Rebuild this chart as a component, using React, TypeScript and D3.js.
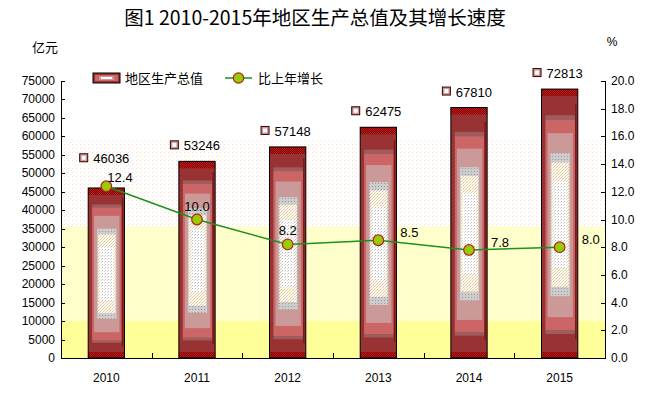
import React from 'react';
import * as d3 from 'd3';

const years = ['2010', '2011', '2012', '2013', '2014', '2015'];
const gdp = [46036, 53246, 57148, 62475, 67810, 72813];
const growth = [12.4, 10.0, 8.2, 8.5, 7.8, 8.0];
const growthLabelPlacement = ['aboveRight', 'above', 'above', 'right', 'right', 'right'];
const leftTicks = d3.range(0, 75001, 5000);
const rightTicks = d3.range(0, 20.001, 2);
const bandValues = [10000, 35700, 59000];

const W = 650, H = 397;
const X0 = 61, X1 = 605, Y0 = 358, YT = 81;

const numFont = '"Liberation Sans", Arial, sans-serif';
const cjkFont = '"Noto Sans CJK SC", "Noto Sans", sans-serif';

function Bar({ x, w, top, bottom }: { x: number; w: number; top: number; bottom: number }) {
  const h = bottom - top;
  const layer = (tf: number, bf: number, li: number, ri: number, fill: string, key: string) => (
    <rect key={key} x={x + li} y={top + tf * h} width={w - li - ri} height={Math.max(0, h * (1 - tf - bf))} fill={fill} />
  );
  const it = top + 0.238 * h;
  const ib = bottom - 0.23 * h;
  const ix = x + 9, iw = w - 17;
  const gs = Math.max(4, 0.035 * h);
  return (
    <g>
      <rect x={x} y={top} width={w} height={h} fill="#993333" />
      {layer(0.097, 0.089, 4, 3, '#9E5C5C', 'a')}
      {layer(0.115, 0.104, 4, 3, '#CC6666', 'b')}
      {layer(0.164, 0.152, 6, 5, '#CC9999', 'c')}
      <rect x={ix} y={it} width={iw} height={ib - it} fill="url(#greyPat)" />
      <rect x={ix + 1} y={it + gs} width={iw - 2} height={Math.max(0, ib - it - 2 * gs)} fill="url(#palePat)" />
      <rect x={ix + 3} y={it + gs + 0.07 * h} width={iw - 6} height={Math.max(0, ib - it - 2 * gs - 0.14 * h)} fill="url(#corePat)" />
      <rect x={x + w - 2.6} y={top + 0.055 * h} width={1.3} height={h * 0.875} fill="#7A1414" />
      <rect x={x} y={top} width={w} height={7} fill="url(#capPat)" />
      <rect x={x} y={bottom - 6} width={w} height={6} fill="url(#capPat)" />
      <rect x={x} y={top} width={w} height={h} fill="none" stroke="#000" strokeWidth={1} />
    </g>
  );
}

export default function App() {
  const xb = d3.scaleBand<string>().domain(years).range([X0, X1]).padding(0);
  const yL = d3.scaleLinear().domain([0, 75000]).range([Y0, YT]);
  const yR = d3.scaleLinear().domain([0, 20]).range([Y0, YT]);
  const step = xb.bandwidth();
  const bw = step * 0.4;
  const cx = (y: string) => (xb(y) as number) + step / 2;

  const line = d3.line<number>().x((_, i) => cx(years[i])).y((d) => yR(d));

  const gl = growth.map((g, i) => {
    const px = cx(years[i]), py = yR(g);
    const p = growthLabelPlacement[i];
    if (p === 'aboveRight') return { x: px + 1, y: py - 4, anchor: 'start' };
    if (p === 'above') return { x: px, y: py - 9, anchor: 'middle' };
    return { x: px + 22, y: py - 3, anchor: 'start' };
  });

  return (
    <svg width={W} height={H} style={{ position: 'fixed', left: 0, top: 0, background: '#fff' }}>
      <defs>
        <pattern id="capPat" width="2" height="2" patternUnits="userSpaceOnUse">
          <rect width="2" height="2" fill="#8B0000" />
          <rect width="1" height="1" fill="#B02020" />
          <rect x="1" y="1" width="1" height="1" fill="#B02020" />
        </pattern>
        <pattern id="dotZone" width="4" height="4" patternUnits="userSpaceOnUse">
          <rect width="4" height="4" fill="#FFFFFF" />
          <rect width="1" height="1" fill="#FADADA" />
          <rect x="2" y="2" width="1" height="1" fill="#FAF2C8" />
        </pattern>
        <pattern id="greyPat" width="3" height="3" patternUnits="userSpaceOnUse">
          <rect width="3" height="3" fill="#CDCDCD" />
          <rect width="1" height="1" fill="#9A9A9A" />
        </pattern>
        <pattern id="palePat" width="3" height="3" patternUnits="userSpaceOnUse">
          <rect width="3" height="3" fill="#FFFBEA" />
          <rect width="1" height="1" fill="#EED98A" />
          <rect x="1" y="2" width="1" height="1" fill="#F0B8B8" />
          <rect x="2" y="1" width="1" height="1" fill="#CCCCCC" />
        </pattern>
        <pattern id="corePat" width="3" height="3" patternUnits="userSpaceOnUse">
          <rect width="3" height="3" fill="#FFFFFF" />
          <rect width="1" height="1" fill="#BBBBBB" />
          <rect x="2" y="1" width="1" height="1" fill="#D8D8D8" />
        </pattern>
      </defs>

      {/* background bands */}
      <rect x={X0} y={yL(bandValues[2])} width={X1 - X0} height={yL(bandValues[1]) - yL(bandValues[2])} fill="url(#dotZone)" />
      <rect x={X0} y={yL(bandValues[1])} width={X1 - X0} height={yL(bandValues[0]) - yL(bandValues[1])} fill="#FFFFCC" />
      <rect x={X0} y={yL(bandValues[0])} width={X1 - X0} height={Y0 - yL(bandValues[0])} fill="#FFFF99" />

      {/* title */}
      <text x={315} y={25} textAnchor="middle" fontFamily={cjkFont} fontSize={19.5} fill="#000">
        图1 2010-2015年地区生产总值及其增长速度
      </text>
      <text x={45} y={52} textAnchor="middle" fontFamily={cjkFont} fontSize={13}>亿元</text>
      <text x={612} y={46} textAnchor="middle" fontFamily={numFont} fontSize={12}>%</text>

      {/* legend */}
      <g>
        <rect x={93} y={73} width={27} height={10} fill="#993333" stroke="#000" strokeWidth={1} />
        <rect x={95} y={75} width={23} height={6} fill="#CC6666" />
        <rect x={99} y={76} width={15} height={4} fill="#CC9999" />
        <rect x={101} y={77} width={11} height={2} fill="#FFFFFF" />
        <text x={125} y={83} fontFamily={cjkFont} fontSize={13}>地区生产总值</text>
        <line x1={225} x2={252} y1={78} y2={78} stroke="#1F8F1F" strokeWidth={1.5} />
        <circle cx={238.5} cy={78} r={5.2} fill="#99CC00" stroke="#B22222" strokeWidth={1.2} />
        <text x={258} y={83} fontFamily={cjkFont} fontSize={13}>比上年增长</text>
      </g>

      {/* bars */}
      {gdp.map((v, i) => (
        <Bar key={years[i]} x={cx(years[i]) - bw / 2} w={bw} top={yL(v)} bottom={Y0} />
      ))}

      {/* axes */}
      <line x1={X0 + 0.5} x2={X0 + 0.5} y1={YT} y2={Y0} stroke="#000" />
      <line x1={X1 + 0.5} x2={X1 + 0.5} y1={YT} y2={Y0} stroke="#000" />
      <line x1={X0} x2={X1 + 1} y1={Y0 + 0.5} y2={Y0 + 0.5} stroke="#000" />
      {leftTicks.map((t) => (
        <g key={'l' + t}>
          <line x1={X0} x2={X0 + 4} y1={Math.round(yL(t)) + 0.5} y2={Math.round(yL(t)) + 0.5} stroke="#000" />
          <text x={55} y={yL(t) + 4} textAnchor="end" fontFamily={numFont} fontSize={12}>{t}</text>
        </g>
      ))}
      {rightTicks.map((t) => (
        <g key={'r' + t}>
          <line x1={X1 - 4} x2={X1 + 1} y1={Math.round(yR(t)) + 0.5} y2={Math.round(yR(t)) + 0.5} stroke="#000" />
          <text x={611} y={yR(t) + 4} textAnchor="start" fontFamily={numFont} fontSize={12}>{t.toFixed(1)}</text>
        </g>
      ))}
      {years.slice(1).map((y) => (
        <line key={'xt' + y} x1={Math.round(xb(y) as number) + 0.5} x2={Math.round(xb(y) as number) + 0.5} y1={Y0} y2={Y0 - 5} stroke="#000" />
      ))}
      {years.map((y) => (
        <text key={'xl' + y} x={cx(y)} y={382} textAnchor="middle" fontFamily={numFont} fontSize={12}>{y}</text>
      ))}

      {/* growth line */}
      <path d={line(growth) || ''} fill="none" stroke="#1F8F1F" strokeWidth={1.5} />
      {growth.map((g, i) => (
        <circle key={'c' + i} cx={cx(years[i])} cy={yR(g)} r={5.3} fill="#99CC00" stroke="#B22222" strokeWidth={1.2} />
      ))}
      {growth.map((g, i) => (
        <text key={'gl' + i} x={gl[i].x} y={gl[i].y} textAnchor={gl[i].anchor as any} fontFamily={numFont} fontSize={13}>
          {g.toFixed(1)}
        </text>
      ))}

      {/* value labels */}
      {gdp.map((v, i) => {
        const left = cx(years[i]) - bw / 2;
        const top = yL(v);
        const gy = yR(growth[i]) - 8;
        const ly = Math.min(top - 16, gy - 20);
        return (
          <g key={'v' + i}>
            <rect x={left - 8.5} y={ly - 4.5} width={8} height={8} fill="#CC9999" stroke="#330000" strokeWidth={1} />
            <rect x={left - 6.5} y={ly - 2.5} width={4} height={4} fill="#FFFFFF" />
            <text x={left + 5} y={ly + 5} fontFamily={numFont} fontSize={13}>{v}</text>
          </g>
        );
      })}
    </svg>
  );
}
